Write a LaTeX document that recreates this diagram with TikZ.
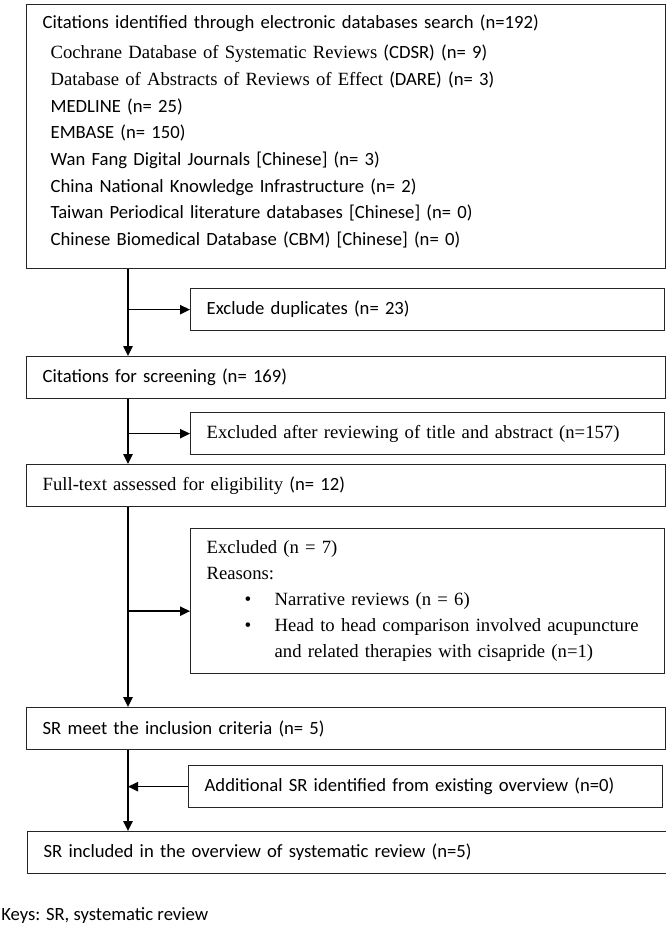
\documentclass[tikz,border=0pt]{standalone}
\usepackage{fontspec}
\setmainfont{Carlito}
\newfontfamily\tnr{Liberation Serif}
\usetikzlibrary{arrows.meta}

\tikzset{
  mainbox/.style = {draw = black!85, line width = 1pt, anchor = north west, inner xsep = 12pt,
    text width = 455.25pt, minimum width = 479.25pt, minimum height = 31.5pt, align = left,
    font = \fontsize{14}{20}\selectfont},
  sidebox/.style = {mainbox, text width = 331.5pt, minimum width = 355.5pt},
  flow/.style = {line width = 1.1pt, -{Triangle[length = 7.5pt, width = 7pt]}}
}

\begin{document}
\begin{tikzpicture}[x = 0.75pt, y = -0.75pt]
%\draw [very thin, color = gray](0, 0) grid [step = 50] (666, 930);
\useasboundingbox (0, 0) rectangle (666, 930);
\coordinate (trunk) at (128, 0);
\node [mainbox, minimum height = 198pt] (search) at (26, 4) {Citations identified through electronic databases search (n=192)\\[2.5pt]
\hspace*{6pt}{\tnr Cochrane Database of Systematic Reviews} (CDSR) (n= 9)\\
\hspace*{6pt}{\tnr Database of Abstracts of Reviews of Effect} (DARE) (n= 3)\\
\hspace*{6pt}MEDLINE (n= 25)\\
\hspace*{6pt}EMBASE (n= 150)\\
\hspace*{6pt}Wan Fang Digital Journals [Chinese] (n= 3)\\
\hspace*{6pt}China National Knowledge Infrastructure (n= 2)\\
\hspace*{6pt}Taiwan Periodical literature databases [Chinese] (n= 0)\\
\hspace*{6pt}Chinese Biomedical Database (CBM) [Chinese] (n= 0)\\[-10.5pt]\mbox{}};
\node [sidebox] (dupl) at (190, 288) {Exclude duplicates (n= 23)};
\node [mainbox] (screen) at (26, 356) {Citations for screening (n= 169)};
\node [sidebox, font = \tnr\fontsize{14}{20}\selectfont] (titleabs) at (190, 412) {Excluded after reviewing of title and abstract (n=157)};
\node [mainbox] (fulltext) at (26, 464) {{\tnr Full-text assessed for eligibility} (n= 12)};
\node [sidebox, minimum height = 108.75pt, font = \tnr\fontsize{14}{19.5}\selectfont] (reasons) at (190, 528) {Excluded (n = 7)\\
Reasons:\\
\hspace*{28.5pt}\makebox[22.5pt][l]{\Large\textbullet}Narrative reviews (n = 6)\\
\hspace*{28.5pt}\makebox[22.5pt][l]{\Large\textbullet}Head to head comparison involved acupuncture\\
\hspace*{51pt}and related therapies with cisapride (n=1)};
\node [mainbox] (meet) at (26, 707) {SR meet the inclusion criteria (n= 5)};
\node [sidebox] (extra) at (188, 765) {Additional SR identified from existing overview (n=0)};
\node [mainbox] (included) at (27, 831) {SR included in the overview of systematic review (n=5)};
\node [anchor = west, inner sep = 0pt, font = \fontsize{14}{20}\selectfont] (keys) at (1, 916) {Keys: SR, systematic review};
% flow down the left
\draw [flow] (search.south -| trunk) to (screen.north -| trunk);
\draw [flow] (trunk |- dupl.west) to (dupl.west);
\draw [flow] (screen.south -| trunk) to (fulltext.north -| trunk);
\draw [flow] (trunk |- titleabs.west) to (titleabs.west);
\draw [flow] (fulltext.south -| trunk) to (meet.north -| trunk);
\draw [flow] ([yshift = -7.5pt]trunk |- reasons.west) to ([yshift = -7.5pt]reasons.west);
\draw [flow] (meet.south -| trunk) to (included.north -| trunk);
\draw [flow] (extra.west) to (extra.west -| trunk);
\end{tikzpicture}
\end{document}
